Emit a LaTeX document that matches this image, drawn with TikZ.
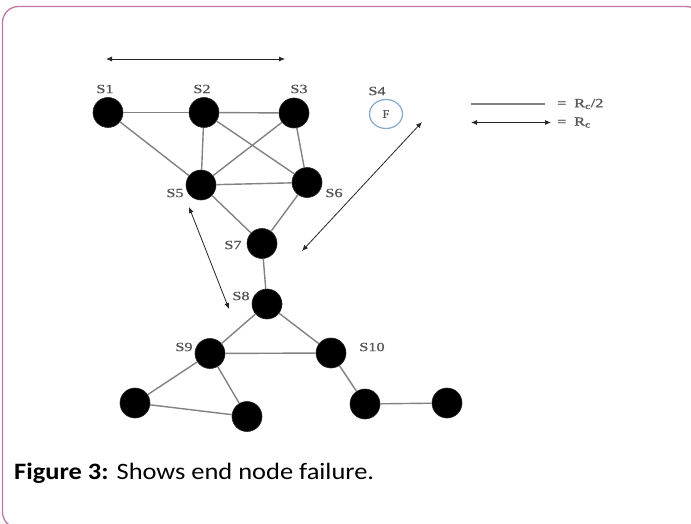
\documentclass[tikz,border=0pt]{standalone}
\usepackage{fontspec}
\setmainfont{Liberation Serif}
\newfontfamily\capfont{Carlito}
\newfontfamily\tagfont[FakeBold=0.9]{Liberation Serif}
\usetikzlibrary{arrows.meta,shapes.geometric}

\definecolor{framepink}{RGB}{192,120,162}
\definecolor{linkgray}{RGB}{130,130,130}
\definecolor{labelgray}{RGB}{85,85,85}
\definecolor{failblue}{RGB}{135,168,204}

\tikzset{
  sensor/.style={circle,fill=black,draw=black!85,line width=0.6pt,minimum size=30pt,inner sep=0pt},
  link/.style={draw=linkgray,line width=1.4pt},
  reach/.style={draw=black!85,line width=0.8pt,{Latex[length=6pt,width=5pt]}-{Latex[length=6pt,width=5pt]}},
  tag/.style={font=\tagfont\fontsize{12.5}{12.5}\selectfont,text=labelgray,inner sep=0pt,xscale=1.3},
  failed/.style={ellipse,draw=failblue,line width=1.2pt,minimum width=33pt,minimum height=29pt,inner sep=0pt,font=\tagfont\fontsize{12}{12}\selectfont,text=labelgray}
}

\begin{document}
\begin{tikzpicture}[x=1pt,y=-1pt]
\useasboundingbox (0,0) rectangle (691,524);
\begin{scope}
\clip (0,0) rectangle (691,524);
\fill[white] (0,0) rectangle (691,524);
\draw[framepink,line width=1.3pt,rounded corners=16pt] (2.5,6.5) rectangle (702,528);
\end{scope}

% sensor nodes
\node[sensor] (s1) at (108,112.5) {};
\node[sensor] (s2) at (204,112.5) {};
\node[sensor] (s3) at (294,113) {};
\node[sensor] (s5) at (201,185) {};
\node[sensor] (s6) at (307,182.5) {};
\node[sensor] (s7) at (262,243.5) {};
\node[sensor] (s8) at (267,304) {};
\node[sensor] (s9) at (210,353.5) {};
\node[sensor] (s10) at (331,353) {};
\node[sensor] (a) at (135,403) {};
\node[sensor] (b) at (247,416.5) {};
\node[sensor] (c) at (365,404) {};
\node[sensor] (d) at (447,403) {};
\node[failed] (s4) at (386,114) {F};

% node labels
\node[tag] (t1) at (105,89) {S1};
\node[tag] (t2) at (202,89) {S2};
\node[tag] (t3) at (299,89) {S3};
\node[tag] (t4) at (377,91) {S4};
\node[tag] (t5) at (175,193) {S5};
\node[tag] (t6) at (334,193) {S6};
\node[tag] (t7) at (233,245) {S7};
\node[tag] (t8) at (241,296) {S8};
\node[tag] (t9) at (184,347) {S9};
\node[tag] (t10) at (372,347) {S10};

% links
\path[link] (s1) -- (s2);
\path[link] (s2) -- (s3);
\path[link] (s1) -- (s5);
\path[link] (s2) -- (s5);
\path[link] (s2) -- (s6);
\path[link] (s3) -- (s5);
\path[link] (s3) -- (s6);
\path[link] (s5) -- (s6);
\path[link] (s5) -- (s7);
\path[link] (s6) -- (s7);
\path[link] (s7) -- (s8);
\path[link] (s8) -- (s9);
\path[link] (s8) -- (s10);
\path[link] (s9) -- (s10);
\path[link] (s9) -- (a);
\path[link] (s9) -- (b);
\path[link] (a) -- (b);
\path[link] (s10) -- (c);
\path[link] (c) -- (d);

% communication ranges
\coordinate (r1a) at (106,59);
\coordinate (r1b) at (285,59);
\draw[reach] (r1a) -- (r1b);
\coordinate (r2a) at (422,122);
\coordinate (r2b) at (302,251);
\draw[reach] (r2a) -- (r2b);
\coordinate (r3a) at (189,207);
\coordinate (r3b) at (229,309);
\draw[reach] (r3a) -- (r3b);

% legend
\coordinate (l1a) at (471,104);
\coordinate (l1b) at (545,104);
\path[link,line width=1.2pt] (l1a) -- (l1b);
\coordinate (l2a) at (471,122.5);
\coordinate (l2b) at (551,122.5);
\draw[reach] (l2a) -- (l2b);
\node[tag,anchor=west] (k1) at (557,104) {=\hspace{6pt}R\textsubscript{c}/2};
\node[tag,anchor=west] (k2) at (557,122.5) {=\hspace{6pt}R\textsubscript{c}};

% caption
\node[anchor=base west,inner sep=0pt,xscale=1.125,font=\capfont\fontsize{23.5}{23.5}\selectfont] (cap) at (14,479)
  {\textbf{Figure 3:} Shows end node failure.};
\end{tikzpicture}
\end{document}
